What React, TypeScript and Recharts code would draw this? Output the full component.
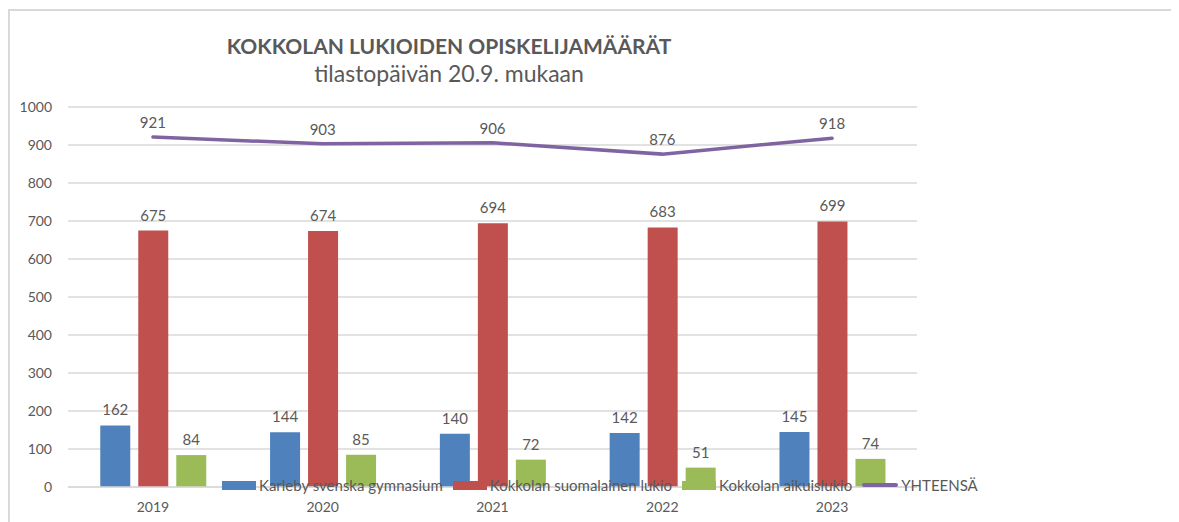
import React from "react";
import {
  Bar,
  CartesianGrid,
  ComposedChart,
  LabelList,
  Line,
  XAxis,
  YAxis,
} from "recharts";

const years = ["2019", "2020", "2021", "2022", "2023"];
const karleby = [162, 144, 140, 142, 145];
const suomalainen = [675, 674, 694, 683, 699];
const aikuislukio = [84, 85, 72, 51, 74];
const yhteensa = [921, 903, 906, 876, 918];
const yTicks = [0, 100, 200, 300, 400, 500, 600, 700, 800, 900, 1000];

const data = years.map((year, i) => ({
  year,
  karleby: karleby[i],
  suomalainen: suomalainen[i],
  aikuislukio: aikuislukio[i],
  yhteensa: yhteensa[i],
}));

const FONT = "Lato, 'Open Sans', sans-serif";
const TEXT = "#595959";
const GRID = "#d9d9d9";

const series = [
  { key: "karleby", name: "Karleby svenska gymnasium", color: "#4f81bd", kind: "bar" },
  { key: "suomalainen", name: "Kokkolan suomalainen lukio", color: "#c0504d", kind: "bar" },
  { key: "aikuislukio", name: "Kokkolan aikuislukio", color: "#9bbb59", kind: "bar" },
  { key: "yhteensa", name: "YHTEENSÄ", color: "#8064a2", kind: "line" },
];

// legend sits over the bottom of the plot, so it lives outside the chart layout
function LegendRow() {
  return (
    <div
      style={{
        position: "absolute",
        left: 212,
        top: 465,
        display: "flex",
        alignItems: "center",
        fontFamily: FONT,
        fontSize: 15,
        lineHeight: "18px",
        color: TEXT,
        whiteSpace: "nowrap",
      }}
    >
      {series.map((s) => (
        <div
          key={s.key}
          style={{ display: "flex", alignItems: "center", marginRight: 10 }}
        >
          <span
            style={{
              display: "inline-block",
              width: s.kind === "bar" ? 34 : 36,
              height: s.kind === "bar" ? 9 : 4,
              borderRadius: s.kind === "bar" ? 0 : 2,
              background: s.color,
              marginRight: 3,
            }}
          />
          <span>{s.name}</span>
        </div>
      ))}
    </div>
  );
}

export default function App() {
  const tick = { fill: TEXT, fontSize: 14, fontFamily: FONT };
  return (
    <div
      style={{
        position: "relative",
        marginTop: 1,
        width: 1171,
        height: 513,
        boxSizing: "border-box",
        borderTop: `2px solid ${GRID}`,
        borderLeft: `2px solid ${GRID}`,
        background: "#fff",
      }}
    >
      <div
        style={{
          position: "absolute",
          left: 0,
          top: 24,
          width: 878,
          textAlign: "center",
          fontFamily: FONT,
          fontWeight: 700,
          fontSize: 21,
          lineHeight: 1,
          color: TEXT,
        }}
      >
        KOKKOLAN LUKIOIDEN OPISKELIJAMÄÄRÄT
      </div>
      <div
        style={{
          position: "absolute",
          left: 0,
          top: 51,
          width: 878,
          textAlign: "center",
          fontFamily: FONT,
          fontSize: 23,
          lineHeight: 1,
          color: TEXT,
        }}
      >
        tilastopäivän 20.9. mukaan
      </div>
      <ComposedChart
        width={1169}
        height={511}
        data={data}
        margin={{ top: 96, right: 262, bottom: 5, left: 0 }}
        barCategoryGap="19%"
        barGap={8}
      >
        <CartesianGrid vertical={false} stroke={GRID} strokeWidth={1.5} />
        <XAxis
          dataKey="year"
          height={30}
          tick={tick}
          tickLine={false}
          tickSize={0}
          tickMargin={15}
          axisLine={{ stroke: GRID, strokeWidth: 1.5 }}
        />
        <YAxis
          width={58}
          domain={[0, 1000]}
          ticks={yTicks}
          interval={0}
          tick={tick}
          tickLine={false}
          tickSize={0}
          tickMargin={16}
          axisLine={false}
        />
        {series
          .filter((s) => s.kind === "bar")
          .map((s) => (
            <Bar
              key={s.key}
              dataKey={s.key}
              name={s.name}
              fill={s.color}
              isAnimationActive={false}
            >
              <LabelList
                dataKey={s.key}
                position="top"
                offset={10}
                fill={TEXT}
                fontSize={15}
                fontFamily={FONT}
              />
            </Bar>
          ))}
        <Line
          dataKey="yhteensa"
          name="YHTEENSÄ"
          stroke="#8064a2"
          strokeWidth={3.5}
          strokeLinecap="round"
          dot={false}
          activeDot={false}
          isAnimationActive={false}
        >
          <LabelList
            dataKey="yhteensa"
            position="top"
            offset={9}
            fill={TEXT}
            fontSize={15}
            fontFamily={FONT}
          />
        </Line>
      </ComposedChart>
      <LegendRow />
    </div>
  );
}
